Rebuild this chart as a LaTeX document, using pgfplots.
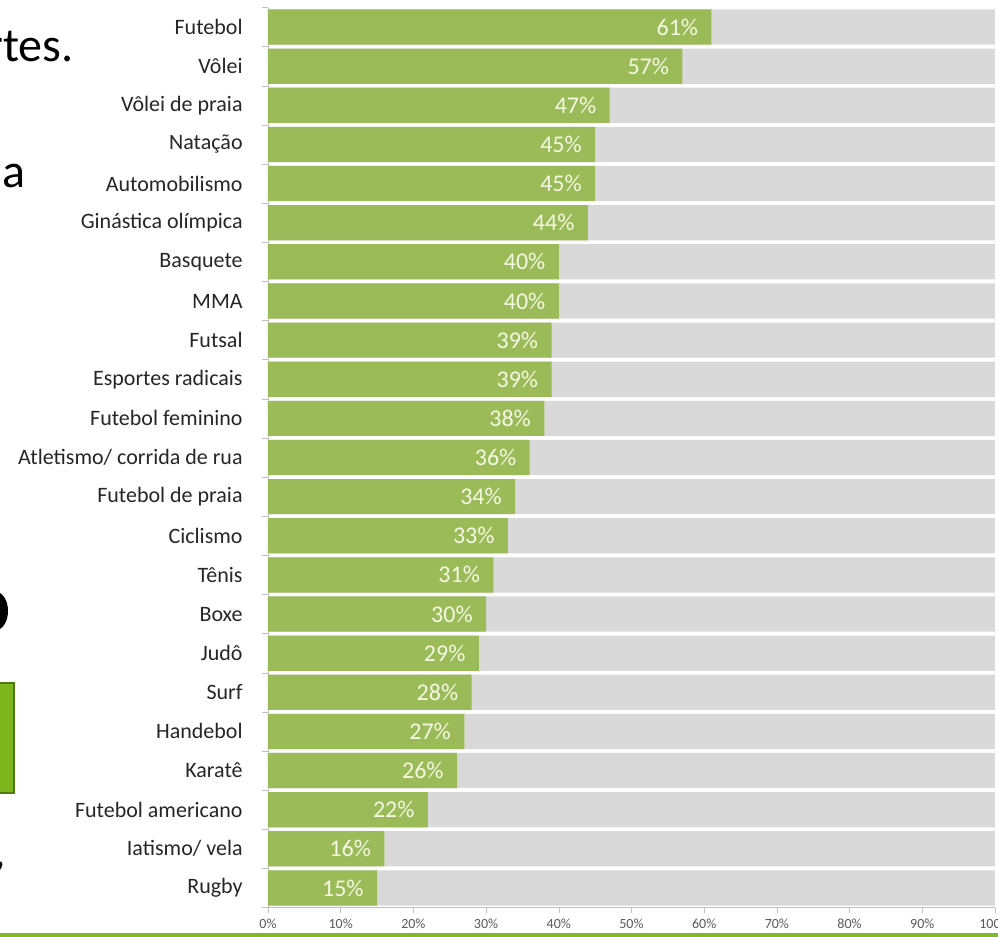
\documentclass[border=0pt]{standalone}
\usepackage{fontspec}
\setmainfont{Carlito}
\usepackage{pgfplots}
\pgfplotsset{compat=1.18}
\definecolor{barg}{HTML}{9BBB59}
\definecolor{bgray}{HTML}{D9D9D9}
\definecolor{axgray}{HTML}{BFBFBF}
\definecolor{labc}{HTML}{262626}
\definecolor{tickc}{HTML}{595959}
\definecolor{numc}{HTML}{F4F8E4}
\definecolor{lineg}{HTML}{7DB928}
\definecolor{boxg}{HTML}{7CB51C}
\definecolor{boxd}{HTML}{4E7A12}
\begin{document}
\begin{tikzpicture}[x=1pt,y=1pt]
\path[use as bounding box] (0,0) rectangle (499,468.5);
% slide fragments on the left
\node[anchor=base east, inner sep=0pt, font=\fontsize{24}{28}\selectfont] at (37,437.5) {rtes.};
\node[anchor=base east, inner sep=0pt, font=\fontsize{24}{28}\selectfont] at (13,374.5) {a};
\fill[black] (-2,163) ellipse [x radius=6, y radius=9.5];
\filldraw[fill=boxg, draw=boxd, line width=0.8pt] (-5,72) rectangle (7,127);
\node[anchor=base east, inner sep=0pt, font=\fontsize{20}{24}\selectfont] at (3,35) {,};
\begin{axis}[
  at={(134pt,14.75pt)}, anchor=south west, scale only axis,
  width=363.5pt, height=450pt,
  xmin=0, xmax=100, ymin=-0.5, ymax=22.5, y dir=reverse,
  xbar, bar width=0.9,
  axis x line*=bottom, axis y line*=left,
  axis line style={draw=axgray},
  tick align=outside,
  /pgf/number format/assume math mode=true,
  ytick={0,...,22},
  yticklabels={Futebol,Vôlei,Vôlei de praia,Natação,Automobilismo,Ginástica olímpica,Basquete,MMA,Futsal,Esportes radicais,Futebol feminino,Atletismo/ corrida de rua,Futebol de praia,Ciclismo,Tênis,Boxe,Judô,Surf,Handebol,Karatê,Futebol americano,Iatismo/ vela,Rugby},
  y tick label style={font=\fontsize{11}{13}\selectfont, text=labc, inner sep=0pt, xshift=-10pt},
  major y tick style={draw=none},
  minor ytick={-0.5,0.5,...,22.5},
  minor tick length=3pt,
  minor y tick style={draw=axgray},
  xtick={0,10,...,100},
  xticklabels={0\%,10\%,20\%,30\%,40\%,50\%,60\%,70\%,80\%,90\%,100\%},
  x tick label style={font=\fontsize{7}{8}\selectfont, text=tickc, inner sep=0pt, yshift=-3pt},
  major x tick style={draw=axgray},
  major tick length=2.5pt,
  clip=false,
]
\addplot[fill=bgray, draw=none, bar shift=0pt] coordinates {
(100,0) (100,1) (100,2) (100,3) (100,4) (100,5) (100,6) (100,7) (100,8) (100,9) (100,10) (100,11)
(100,12) (100,13) (100,14) (100,15) (100,16) (100,17) (100,18) (100,19) (100,20) (100,21) (100,22)};
\addplot[fill=barg, draw=none, bar shift=0pt, point meta=x,
  nodes near coords={\pgfmathprintnumber[assume math mode=true]{\pgfplotspointmeta}\%},
  nodes near coords style={anchor=east, inner sep=0pt, xshift=-6.5pt, text=numc, font=\fontsize{12}{14}\selectfont}] coordinates {
(61,0) (57,1) (47,2) (45,3) (45,4) (44,5) (40,6) (40,7) (39,8) (39,9) (38,10) (36,11)
(34,12) (33,13) (31,14) (30,15) (29,16) (28,17) (27,18) (26,19) (22,20) (16,21) (15,22)};
\end{axis}
\draw[lineg, line width=1.8pt] (-5,0.9) -- (505,0.9);
\end{tikzpicture}
\end{document}
